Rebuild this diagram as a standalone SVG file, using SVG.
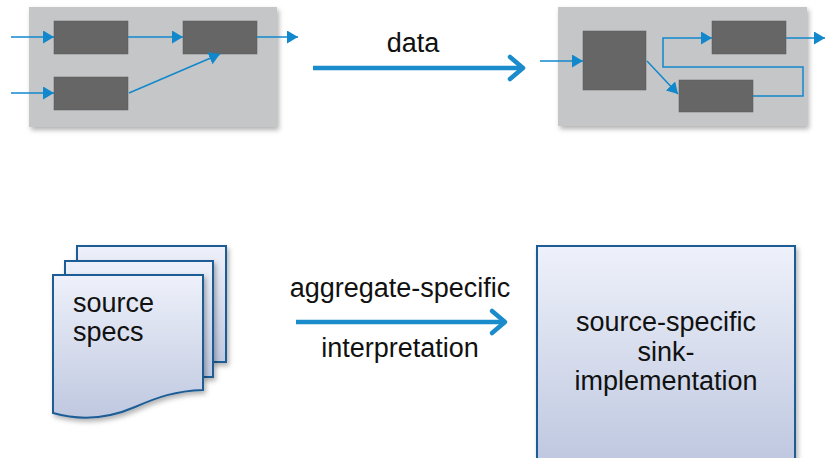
<svg xmlns="http://www.w3.org/2000/svg" width="825" height="458" viewBox="0 0 825 458">
<style>
.panel{fill:#c5c6c8;}
.blk{fill:#666666;stroke:#5a5a5a;stroke-width:0.5;}
.thin{fill:none;stroke:#1188cc;stroke-width:1.5;}
.thick{fill:none;stroke:#1a8ccc;stroke-width:4.5;}
.chev{fill:none;stroke:#1a8ccc;stroke-width:4.5;stroke-linecap:round;stroke-linejoin:round;}
.doc{fill:url(#g);stroke:#1f5d96;stroke-width:2;}
.t{font-family:"Liberation Sans",Arial,sans-serif;fill:#111;font-size:27px;}
</style>
<defs>
<linearGradient id="g" x1="0" y1="0" x2="0" y2="1">
<stop offset="0" stop-color="#eef1fa"/>
<stop offset="1" stop-color="#bfc8e0"/>
</linearGradient>
<marker id="ah" viewBox="0 0 11 13" refX="11" refY="6.5" markerWidth="11" markerHeight="13" markerUnits="userSpaceOnUse" orient="auto">
<path d="M0,0 L11,6.5 L0,13 z" fill="#1188cc"/>
</marker>
<filter id="sh" x="-10%" y="-10%" width="125%" height="125%">
<feDropShadow dx="2" dy="3" stdDeviation="2.5" flood-color="#000" flood-opacity="0.3"/>
</filter>
</defs>
<g id="panel-left">
<rect class="panel" x="29" y="7" width="248" height="120" filter="url(#sh)"/>
</g>
<g id="box-l1"><rect class="blk" x="54" y="21" width="74" height="33"/></g>
<g id="box-l2"><rect class="blk" x="183" y="21" width="74" height="33"/></g>
<g id="box-l3"><rect class="blk" x="54" y="77" width="74" height="33"/></g>
<g id="panel-right">
<rect class="panel" x="558" y="7" width="249" height="119" filter="url(#sh)"/>
</g>
<g id="box-r1"><rect class="blk" x="583" y="31" width="63" height="59"/></g>
<g id="box-r2"><rect class="blk" x="712" y="21" width="74" height="33"/></g>
<g id="box-r3"><rect class="blk" x="679" y="80" width="74" height="32"/></g>
<g id="docs">
<path class="doc" filter="url(#sh)" d="M77,246 H226 V362 H213 V261 H77 Z"/>
<path class="doc" filter="url(#sh)" d="M65,261 H213 V377 H203 V275 H65 Z"/>
<path class="doc" filter="url(#sh)" d="M53,275 H203 V390 C175,391 158,397 135,407 C112,417 85,422 53,413 Z"/>
<text class="t" x="73" y="312">source</text>
<text class="t" x="73" y="341">specs</text>
</g>
<g id="sink">
<path class="doc" filter="url(#sh)" d="M537,246 H795 V462 H537 Z"/>
<text class="t" x="666" y="331" text-anchor="middle">source-specific</text>
<text class="t" x="666" y="361" text-anchor="middle">sink-</text>
<text class="t" x="666" y="390" text-anchor="middle">implementation</text>
</g>
<g id="connectors">
<line class="thin" x1="11" y1="37" x2="54" y2="37" marker-end="url(#ah)"/>
<line class="thin" x1="128" y1="37" x2="183" y2="37" marker-end="url(#ah)"/>
<line class="thin" x1="257" y1="37" x2="298" y2="37" marker-end="url(#ah)"/>
<line class="thin" x1="11" y1="93" x2="54" y2="93" marker-end="url(#ah)"/>
<line class="thin" x1="129" y1="93" x2="220" y2="54" marker-end="url(#ah)"/>
<line class="thin" x1="540" y1="61" x2="583" y2="61" marker-end="url(#ah)"/>
<line class="thin" x1="647" y1="61" x2="678" y2="94" marker-end="url(#ah)"/>
<polyline class="thin" points="753,96 803,96 803,67 663,67 663,38 712,38" marker-end="url(#ah)"/>
<line class="thin" x1="786" y1="38" x2="825" y2="38" marker-end="url(#ah)"/>
<line class="thick" x1="313" y1="68" x2="523" y2="68"/>
<polyline class="chev" points="510,57 523,68 510,79"/>
<line class="thick" x1="296" y1="322" x2="505" y2="322"/>
<polyline class="chev" points="492,311 505,322 492,333"/>
</g>
<text class="t" x="413" y="52" text-anchor="middle" font-size="32">data</text>
<text class="t" x="400" y="297" text-anchor="middle">aggregate-specific</text>
<text class="t" x="400" y="357" text-anchor="middle">interpretation</text>
</svg>
